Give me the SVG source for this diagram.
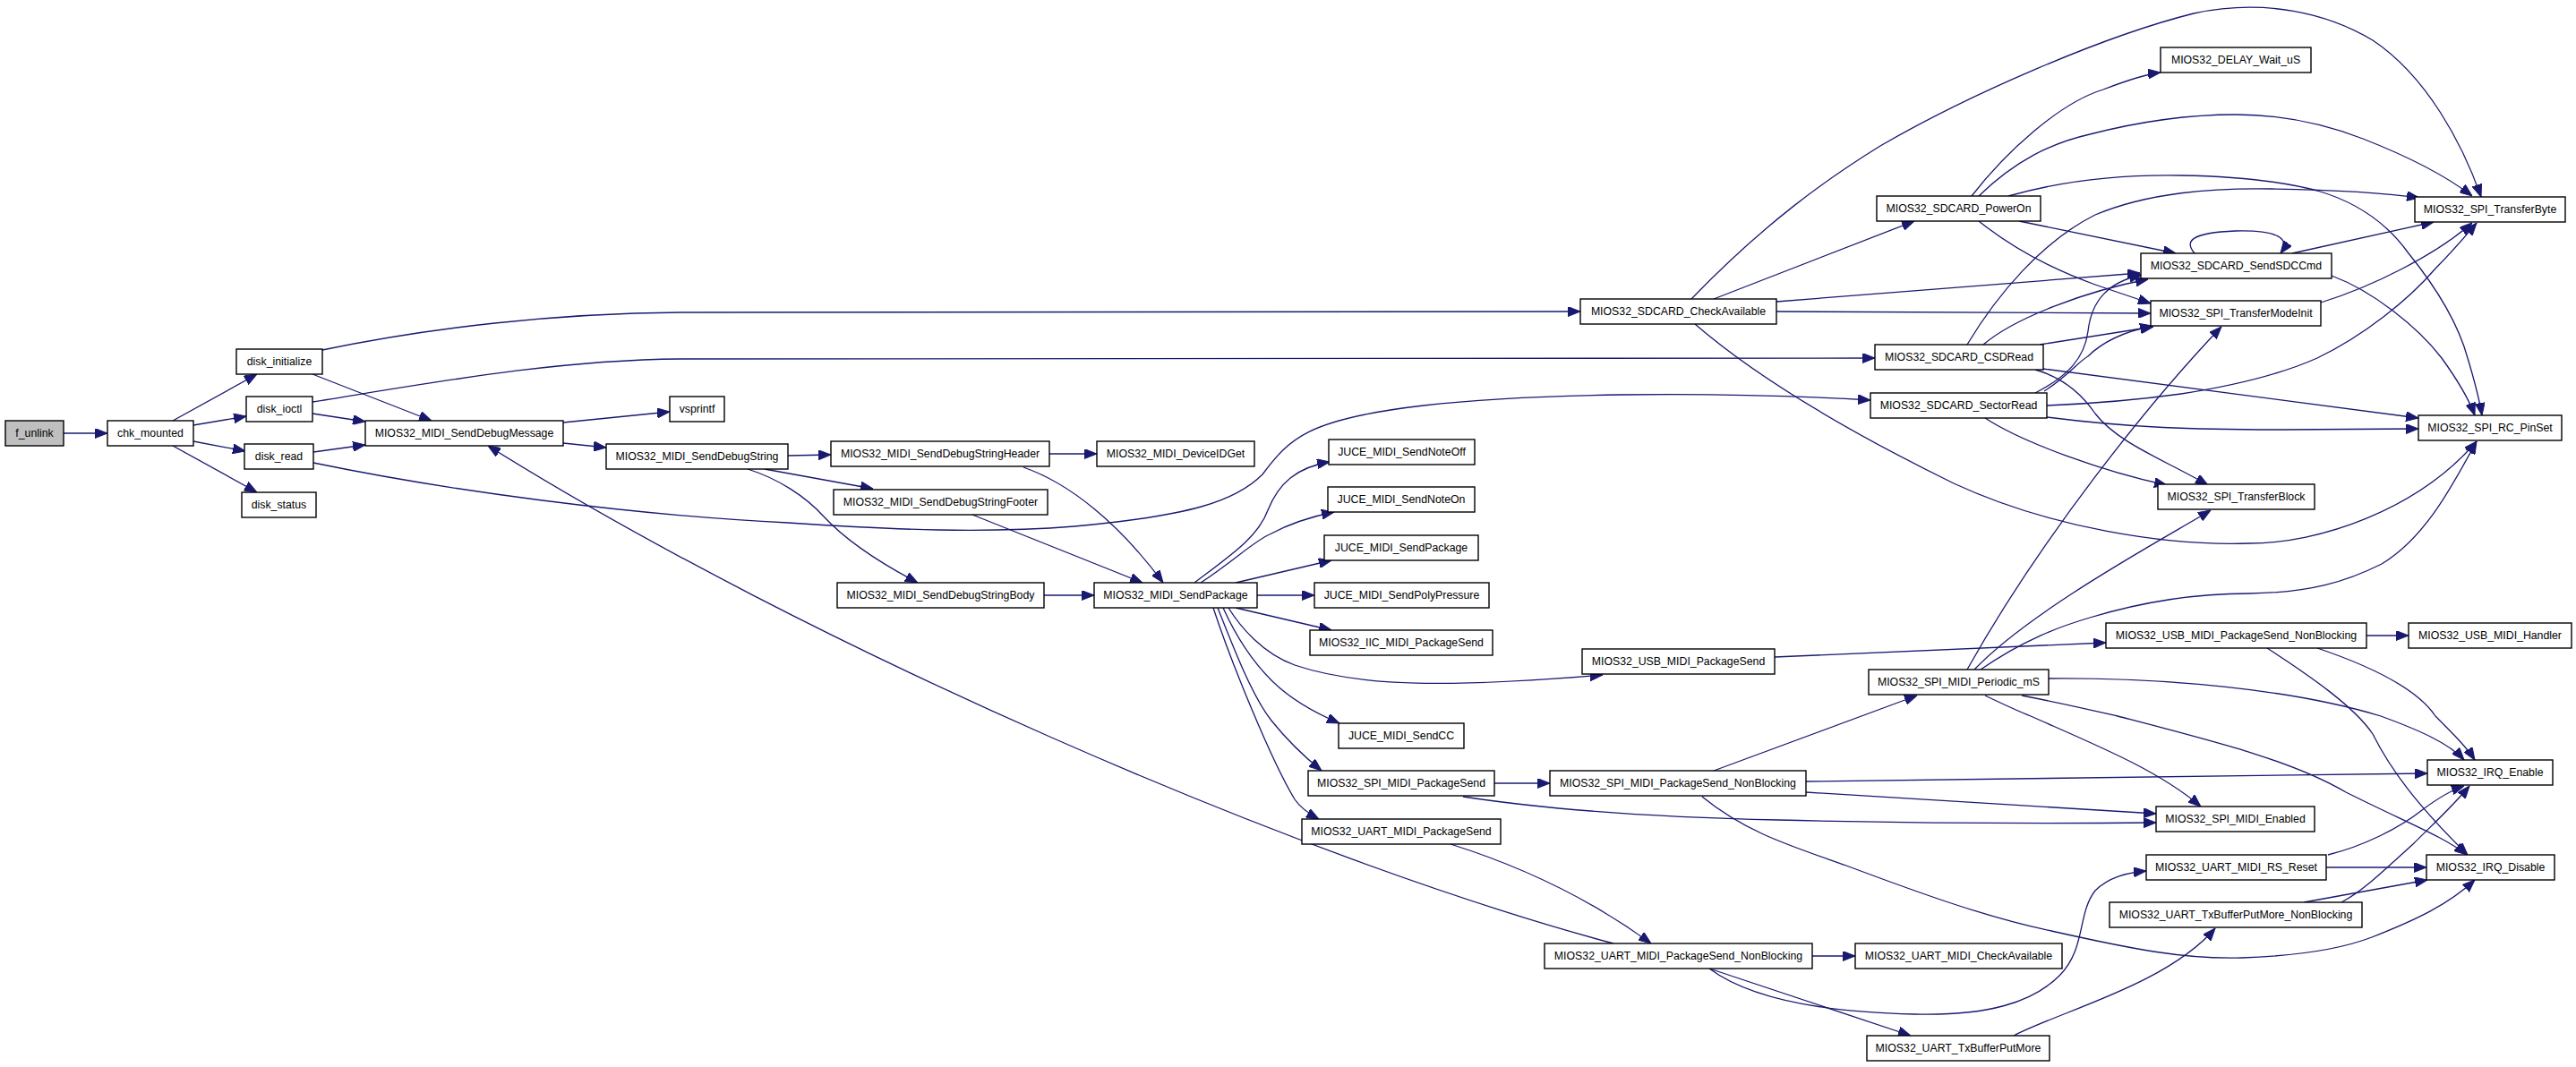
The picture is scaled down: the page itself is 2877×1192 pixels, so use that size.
<svg xmlns="http://www.w3.org/2000/svg" width="2877" height="1192" viewBox="0 0 2877 1192">
<style>
.n rect{fill:#fff;stroke:#000;stroke-width:1.4}
.n.root rect{fill:#bfbfbf}
.n text{font-family:"Liberation Sans",Arial,sans-serif;font-size:12.3px;fill:#000;text-anchor:middle}
#edges path{fill:none;stroke:#191970;stroke-width:1.3;marker-end:url(#ah)}
</style>
<defs>
<marker id="ah" markerUnits="userSpaceOnUse" markerWidth="14" markerHeight="11" refX="14" refY="5.5" orient="auto" viewBox="0 0 14 11">
<path d="M0,0 L14,5.5 L0,11 Z" fill="#191970" stroke="#191970" stroke-width="1"/>
</marker>
</defs>
<rect width="2877" height="1192" fill="#fff"/>
<g id="edges">
<path d="M71,484 L120,484"/>
<path d="M193,470 L287,418"/>
<path d="M216,475 L275,465"/>
<path d="M216,493 L274,504"/>
<path d="M193,498 L287,550"/>
<path d="M360,391 C480,366 620,350 760,349 L1765,348"/>
<path d="M349,418 L482,470"/>
<path d="M349,449 C480,428 620,402 760,401 L2094,400"/>
<path d="M349,462 L408,471"/>
<path d="M350,505 L408,497"/>
<path d="M350,517 C500,548 700,575 880,584 C1000,592 1100,596 1200,588 C1330,576 1380,560 1410,530 C1440,490 1460,468 1590,453 C1700,440 1900,436 2089,447"/>
<path d="M629,472 L748,460"/>
<path d="M629,495 L677,500"/>
<path d="M880,509 L928,508"/>
<path d="M854,524 L975,546"/>
<path d="M835,524 C870,535 900,555 920,577 C945,604 985,630 1025,651"/>
<path d="M1172,507 L1225,507"/>
<path d="M1143,522 C1195,540 1250,585 1299,651"/>
<path d="M1086,575 L1276,651"/>
<path d="M1166,665 L1222,665"/>
<path d="M1334,651 C1375,620 1405,600 1416,570 C1428,540 1448,522 1485,516"/>
<path d="M1341,651 C1380,625 1400,605 1418,597 C1440,585 1465,577 1490,572"/>
<path d="M1380,651 L1487,626"/>
<path d="M1404,665 L1468,665"/>
<path d="M1380,679 L1487,704"/>
<path d="M1372,679 C1385,700 1410,730 1446,743 C1520,768 1620,768 1790,754"/>
<path d="M1366,679 C1380,710 1400,740 1420,760 C1440,780 1470,797 1496,808"/>
<path d="M1360,679 C1380,730 1400,780 1420,805 C1440,830 1460,848 1476,861"/>
<path d="M1355,679 C1375,740 1420,850 1446,893 C1452,902 1460,908 1473,915"/>
<path d="M1802,1054 C1450,960 900,720 545,498"/>
<path d="M1620,943 C1690,965 1770,1000 1844,1054"/>
<path d="M1669,875 L1731,875"/>
<path d="M1634,890 C1700,900 1800,912 1985,916 C2150,920 2300,920 2408,919"/>
<path d="M2017,885 L2408,909"/>
<path d="M1914,861 L2141,777"/>
<path d="M2017,873 L2711,864"/>
<path d="M1901,890 C1950,930 2000,945 2062,967 C2150,1000 2220,1025 2291,1040 C2380,1060 2440,1072 2504,1070 C2560,1068 2610,1062 2649,1047 C2700,1027 2735,1010 2764,983"/>
<path d="M1982,734 L2352,718"/>
<path d="M2643,710 L2690,710"/>
<path d="M2588,724 C2650,745 2700,770 2720,800 C2740,820 2755,835 2764,849"/>
<path d="M2532,724 C2580,755 2630,790 2650,820 C2670,860 2700,900 2756,955"/>
<path d="M2197,748 C2280,600 2400,450 2481,365"/>
<path d="M2205,748 C2270,680 2420,600 2469,570"/>
<path d="M2212,748 C2260,715 2300,700 2334,690 C2400,670 2460,663 2512,663 C2580,662 2620,650 2660,630 C2710,600 2740,540 2766,493"/>
<path d="M2288,758 C2420,757 2560,770 2659,800 C2700,815 2735,830 2752,849"/>
<path d="M2258,777 C2300,785 2330,792 2365,800 C2480,830 2560,850 2620,885 C2690,920 2730,935 2755,955"/>
<path d="M2217,777 C2240,788 2255,795 2268,800 C2340,832 2410,860 2458,901"/>
<path d="M2024,1068 L2072,1068"/>
<path d="M1909,1082 C1940,1105 2000,1130 2138,1133 C2220,1135 2270,1120 2300,1090 C2330,1060 2320,1020 2340,995 C2355,980 2375,975 2397,973"/>
<path d="M1909,1082 L2134,1157"/>
<path d="M2249,1157 C2300,1130 2420,1100 2474,1037"/>
<path d="M2573,1008 L2711,983"/>
<path d="M2615,1008 C2640,995 2665,970 2695,943 C2720,918 2740,900 2758,878"/>
<path d="M2598,969 L2710,969"/>
<path d="M2600,955 C2640,945 2680,925 2705,905 C2725,890 2740,882 2752,878"/>
<path d="M1889,334 C1970,250 2040,200 2100,163 C2200,105 2350,40 2450,15 C2530,-2 2600,15 2650,45 C2710,85 2750,160 2771,220"/>
<path d="M1914,334 L2138,247"/>
<path d="M1984,337 L2390,305"/>
<path d="M1984,348 L2402,350"/>
<path d="M1893,362 C1960,420 2060,480 2182,540 C2290,590 2420,610 2512,607 C2590,607 2700,570 2766,493"/>
<path d="M2202,219 C2240,170 2300,115 2349,100 C2375,90 2395,83 2413,81"/>
<path d="M2210,219 C2250,180 2290,160 2334,150 C2400,133 2450,128 2497,128 C2550,128 2600,140 2639,155 C2690,175 2730,195 2761,219"/>
<path d="M2243,219 C2310,200 2380,195 2436,196 C2500,197 2550,203 2588,213 C2640,228 2670,255 2690,283 C2720,320 2745,360 2756,400 C2762,420 2768,440 2772,464"/>
<path d="M2604,308 C2650,325 2700,365 2727,400 C2745,425 2757,445 2764,464"/>
<path d="M2255,247 L2430,283"/>
<path d="M2210,247 C2245,275 2290,300 2340,318 L2402,339"/>
<path d="M2451,283 C2440,270 2445,260 2497,258 C2540,257 2560,265 2547,283"/>
<path d="M2560,283 L2718,248"/>
<path d="M2592,338 C2650,320 2720,285 2761,249"/>
<path d="M2197,385 C2230,330 2280,270 2340,240 C2400,215 2470,210 2537,211 C2600,212 2660,215 2702,221"/>
<path d="M2215,385 C2250,355 2330,325 2399,312"/>
<path d="M2278,385 L2405,365"/>
<path d="M2282,412 L2701,467"/>
<path d="M2273,413 C2305,422 2325,440 2340,462 C2365,495 2420,515 2466,542"/>
<path d="M2273,439 C2310,420 2328,400 2332,370 C2336,335 2355,315 2392,307"/>
<path d="M2283,437 C2310,420 2320,405 2332,398 C2350,380 2375,370 2404,364"/>
<path d="M2286,453 C2360,450 2400,445 2436,440 C2500,430 2550,417 2588,400 C2640,375 2690,335 2720,300 C2740,280 2755,262 2766,249"/>
<path d="M2286,466 C2380,478 2450,480 2550,480 L2701,479"/>
<path d="M2217,467 C2260,495 2350,527 2420,542"/>
</g>
<g id="f_unlink" class="n root"><rect x="6" y="470" width="65" height="28"/><text x="38.5" y="488">f_unlink</text></g>
<g id="chk_mounted" class="n"><rect x="120" y="470" width="96" height="28"/><text x="168" y="488">chk_mounted</text></g>
<g id="disk_initialize" class="n"><rect x="264" y="390" width="96" height="28"/><text x="312" y="408">disk_initialize</text></g>
<g id="disk_ioctl" class="n"><rect x="275" y="443" width="74" height="28"/><text x="312" y="461">disk_ioctl</text></g>
<g id="disk_read" class="n"><rect x="273" y="496" width="77" height="28"/><text x="311.5" y="514">disk_read</text></g>
<g id="disk_status" class="n"><rect x="270" y="550" width="83" height="28"/><text x="311.5" y="568">disk_status</text></g>
<g id="MIOS32_MIDI_SendDebugMessage" class="n"><rect x="408" y="470" width="221" height="28"/><text x="518.5" y="488">MIOS32_MIDI_SendDebugMessage</text></g>
<g id="vsprintf" class="n"><rect x="748" y="443" width="61" height="28"/><text x="778.5" y="461">vsprintf</text></g>
<g id="MIOS32_MIDI_SendDebugString" class="n"><rect x="677" y="496" width="203" height="28"/><text x="778.5" y="514">MIOS32_MIDI_SendDebugString</text></g>
<g id="MIOS32_MIDI_SendDebugStringHeader" class="n"><rect x="928" y="493" width="244" height="28"/><text x="1050" y="511">MIOS32_MIDI_SendDebugStringHeader</text></g>
<g id="MIOS32_MIDI_DeviceIDGet" class="n"><rect x="1225" y="493" width="176" height="28"/><text x="1313" y="511">MIOS32_MIDI_DeviceIDGet</text></g>
<g id="MIOS32_MIDI_SendDebugStringFooter" class="n"><rect x="931" y="547" width="239" height="28"/><text x="1050.5" y="565">MIOS32_MIDI_SendDebugStringFooter</text></g>
<g id="MIOS32_MIDI_SendDebugStringBody" class="n"><rect x="935" y="651" width="231" height="28"/><text x="1050.5" y="669">MIOS32_MIDI_SendDebugStringBody</text></g>
<g id="MIOS32_MIDI_SendPackage" class="n"><rect x="1222" y="651" width="182" height="28"/><text x="1313" y="669">MIOS32_MIDI_SendPackage</text></g>
<g id="JUCE_MIDI_SendNoteOff" class="n"><rect x="1484" y="491" width="163" height="28"/><text x="1565.5" y="509">JUCE_MIDI_SendNoteOff</text></g>
<g id="JUCE_MIDI_SendNoteOn" class="n"><rect x="1483" y="544" width="164" height="28"/><text x="1565" y="562">JUCE_MIDI_SendNoteOn</text></g>
<g id="JUCE_MIDI_SendPackage" class="n"><rect x="1479" y="598" width="172" height="28"/><text x="1565" y="616">JUCE_MIDI_SendPackage</text></g>
<g id="JUCE_MIDI_SendPolyPressure" class="n"><rect x="1468" y="651" width="195" height="28"/><text x="1565.5" y="669">JUCE_MIDI_SendPolyPressure</text></g>
<g id="MIOS32_IIC_MIDI_PackageSend" class="n"><rect x="1463" y="704" width="204" height="28"/><text x="1565" y="722">MIOS32_IIC_MIDI_PackageSend</text></g>
<g id="MIOS32_USB_MIDI_PackageSend" class="n"><rect x="1767" y="725" width="215" height="28"/><text x="1874.5" y="743">MIOS32_USB_MIDI_PackageSend</text></g>
<g id="JUCE_MIDI_SendCC" class="n"><rect x="1495" y="808" width="140" height="28"/><text x="1565" y="826">JUCE_MIDI_SendCC</text></g>
<g id="MIOS32_SPI_MIDI_PackageSend" class="n"><rect x="1461" y="861" width="208" height="28"/><text x="1565" y="879">MIOS32_SPI_MIDI_PackageSend</text></g>
<g id="MIOS32_SPI_MIDI_PackageSend_NonBlocking" class="n"><rect x="1731" y="861" width="286" height="28"/><text x="1874" y="879">MIOS32_SPI_MIDI_PackageSend_NonBlocking</text></g>
<g id="MIOS32_UART_MIDI_PackageSend" class="n"><rect x="1454" y="915" width="222" height="28"/><text x="1565" y="933">MIOS32_UART_MIDI_PackageSend</text></g>
<g id="MIOS32_SDCARD_CheckAvailable" class="n"><rect x="1765" y="334" width="219" height="28"/><text x="1874.5" y="352">MIOS32_SDCARD_CheckAvailable</text></g>
<g id="MIOS32_SDCARD_CSDRead" class="n"><rect x="2094" y="385" width="188" height="28"/><text x="2188" y="403">MIOS32_SDCARD_CSDRead</text></g>
<g id="MIOS32_SDCARD_SectorRead" class="n"><rect x="2089" y="439" width="197" height="28"/><text x="2187.5" y="457">MIOS32_SDCARD_SectorRead</text></g>
<g id="MIOS32_SDCARD_PowerOn" class="n"><rect x="2096" y="219" width="183" height="28"/><text x="2187.5" y="237">MIOS32_SDCARD_PowerOn</text></g>
<g id="MIOS32_DELAY_Wait_uS" class="n"><rect x="2413" y="53" width="168" height="28"/><text x="2497" y="71">MIOS32_DELAY_Wait_uS</text></g>
<g id="MIOS32_SPI_TransferByte" class="n"><rect x="2697" y="220" width="168" height="28"/><text x="2781" y="238">MIOS32_SPI_TransferByte</text></g>
<g id="MIOS32_SDCARD_SendSDCCmd" class="n"><rect x="2391" y="283" width="213" height="28"/><text x="2497.5" y="301">MIOS32_SDCARD_SendSDCCmd</text></g>
<g id="MIOS32_SPI_TransferModeInit" class="n"><rect x="2402" y="336" width="190" height="28"/><text x="2497" y="354">MIOS32_SPI_TransferModeInit</text></g>
<g id="MIOS32_SPI_RC_PinSet" class="n"><rect x="2701" y="464" width="160" height="28"/><text x="2781" y="482">MIOS32_SPI_RC_PinSet</text></g>
<g id="MIOS32_SPI_TransferBlock" class="n"><rect x="2410" y="541" width="175" height="28"/><text x="2497.5" y="559">MIOS32_SPI_TransferBlock</text></g>
<g id="MIOS32_USB_MIDI_PackageSend_NonBlocking" class="n"><rect x="2352" y="696" width="291" height="28"/><text x="2497.5" y="714">MIOS32_USB_MIDI_PackageSend_NonBlocking</text></g>
<g id="MIOS32_USB_MIDI_Handler" class="n"><rect x="2690" y="696" width="182" height="28"/><text x="2781" y="714">MIOS32_USB_MIDI_Handler</text></g>
<g id="MIOS32_SPI_MIDI_Periodic_mS" class="n"><rect x="2087" y="748" width="201" height="28"/><text x="2187.5" y="766">MIOS32_SPI_MIDI_Periodic_mS</text></g>
<g id="MIOS32_IRQ_Enable" class="n"><rect x="2711" y="849" width="140" height="28"/><text x="2781" y="867">MIOS32_IRQ_Enable</text></g>
<g id="MIOS32_SPI_MIDI_Enabled" class="n"><rect x="2408" y="901" width="177" height="28"/><text x="2496.5" y="919">MIOS32_SPI_MIDI_Enabled</text></g>
<g id="MIOS32_UART_MIDI_RS_Reset" class="n"><rect x="2397" y="955" width="201" height="28"/><text x="2497.5" y="973">MIOS32_UART_MIDI_RS_Reset</text></g>
<g id="MIOS32_IRQ_Disable" class="n"><rect x="2710" y="955" width="143" height="28"/><text x="2781.5" y="973">MIOS32_IRQ_Disable</text></g>
<g id="MIOS32_UART_TxBufferPutMore_NonBlocking" class="n"><rect x="2356" y="1008" width="282" height="28"/><text x="2497" y="1026">MIOS32_UART_TxBufferPutMore_NonBlocking</text></g>
<g id="MIOS32_UART_MIDI_PackageSend_NonBlocking" class="n"><rect x="1725" y="1054" width="299" height="28"/><text x="1874.5" y="1072">MIOS32_UART_MIDI_PackageSend_NonBlocking</text></g>
<g id="MIOS32_UART_MIDI_CheckAvailable" class="n"><rect x="2072" y="1054" width="231" height="28"/><text x="2187.5" y="1072">MIOS32_UART_MIDI_CheckAvailable</text></g>
<g id="MIOS32_UART_TxBufferPutMore" class="n"><rect x="2085" y="1157" width="204" height="28"/><text x="2187" y="1175">MIOS32_UART_TxBufferPutMore</text></g>
</svg>
